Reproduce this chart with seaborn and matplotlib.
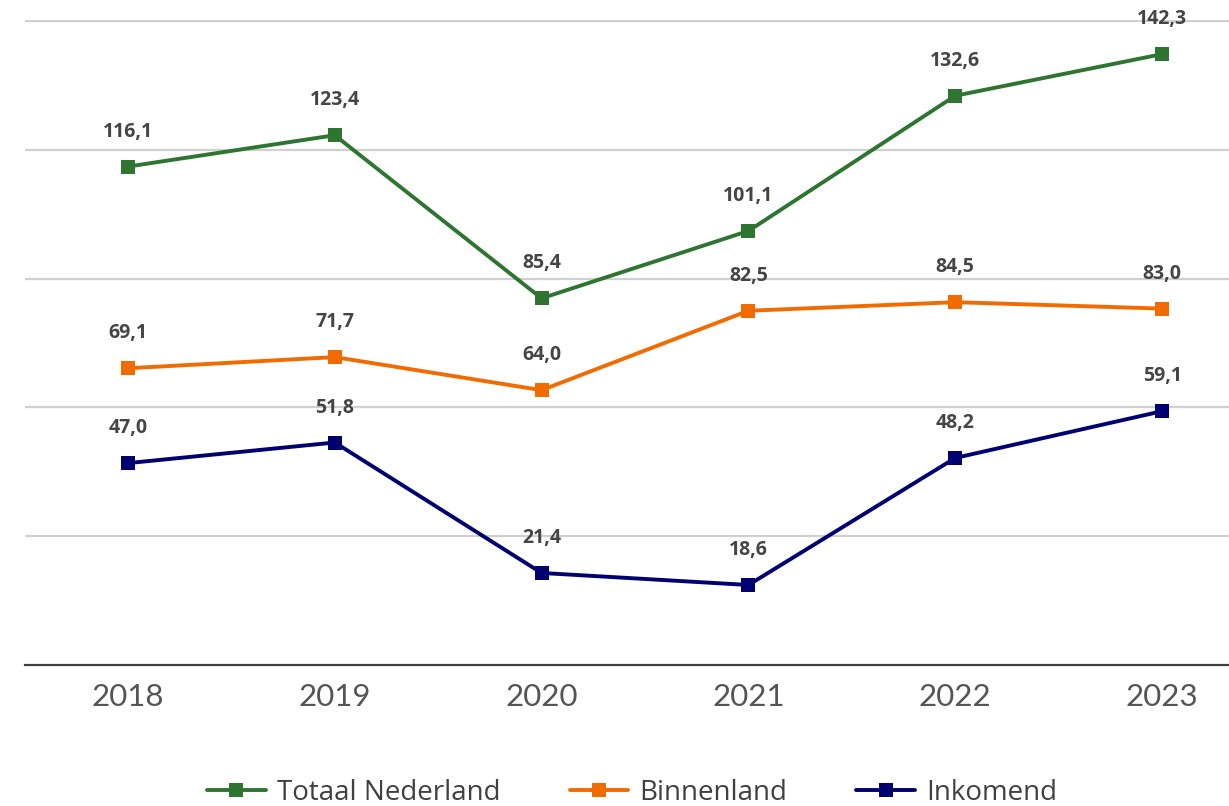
import matplotlib
matplotlib.use("Agg")
import matplotlib.pyplot as plt
import seaborn as sns
import pandas as pd

years = ["2018", "2019", "2020", "2021", "2022", "2023"]
totaal = [116.1, 123.4, 85.4, 101.1, 132.6, 142.3]
binnenland = [69.1, 71.7, 64.0, 82.5, 84.5, 83.0]
inkomend = [47.0, 51.8, 21.4, 18.6, 48.2, 59.1]
series_names = ["Totaal Nederland", "Binnenland", "Inkomend"]
colors = ["#2e7532", "#f26b00", "#000070"]

df = pd.DataFrame({
    "jaar": years * 3,
    "waarde": totaal + binnenland + inkomend,
    "reeks": [n for n in series_names for _ in years],
})
df["x"] = df["jaar"].map({y: i for i, y in enumerate(years)})

sns.set_style("white")
plt.rcParams["font.family"] = ["Lato", "DejaVu Sans"]

fig = plt.figure(figsize=(12.29, 8.06), dpi=100)
# plot area runs slightly past the right edge of the image, like the original
ax = fig.add_axes([24.5 / 1229, (806 - 664.8) / 806, 1241 / 1229, 645 / 806])

sns.lineplot(data=df, x="x", y="waarde", hue="reeks", palette=colors,
             marker="s", markersize=9.5, markeredgewidth=0, linewidth=2.8,
             ax=ax, legend=True)

for name, vals in zip(series_names, [totaal, binnenland, inkomend]):
    for i, v in enumerate(vals):
        ax.annotate(f"{v:.1f}".replace(".", ","), (i, v), xytext=(0, 18),
                    textcoords="offset points", ha="center", va="bottom",
                    fontsize=14, fontweight="bold", color="#454545",
                    family=["Open Sans", "DejaVu Sans"])

ax.set_xlim(-0.5, 5.5)
ax.set_ylim(0, 150.3)
ax.set_yticks([30, 60, 90, 120, 150])
ax.set_yticklabels([])
ax.tick_params(axis="y", length=0)
ax.grid(axis="y", color="#d0d0d0", linewidth=1.6)
ax.set_axisbelow(True)
ax.set_xticks(range(len(years)))
ax.set_xticklabels(years, fontsize=22.5, color="#555555", fontweight="normal")
ax.tick_params(axis="x", length=0, pad=13)
for s in ["top", "left", "right"]:
    ax.spines[s].set_visible(False)
ax.spines["bottom"].set_color("#404040")
ax.spines["bottom"].set_linewidth(1.6)
ax.set_xlabel("")
ax.set_ylabel("")

handles, labels = ax.get_legend_handles_labels()
ax.legend(handles, labels, loc="center", bbox_to_anchor=(632 / 1229, 13 / 806),
          bbox_transform=fig.transFigure, ncol=3, frameon=False,
          handlelength=2.1, columnspacing=2.5, handletextpad=0.4,
          prop={"family": ["Open Sans", "DejaVu Sans"], "size": 20})
leg = ax.get_legend()
for t in leg.get_texts():
    t.set_color("#404040")

fig.savefig("out.png", dpi=100)
